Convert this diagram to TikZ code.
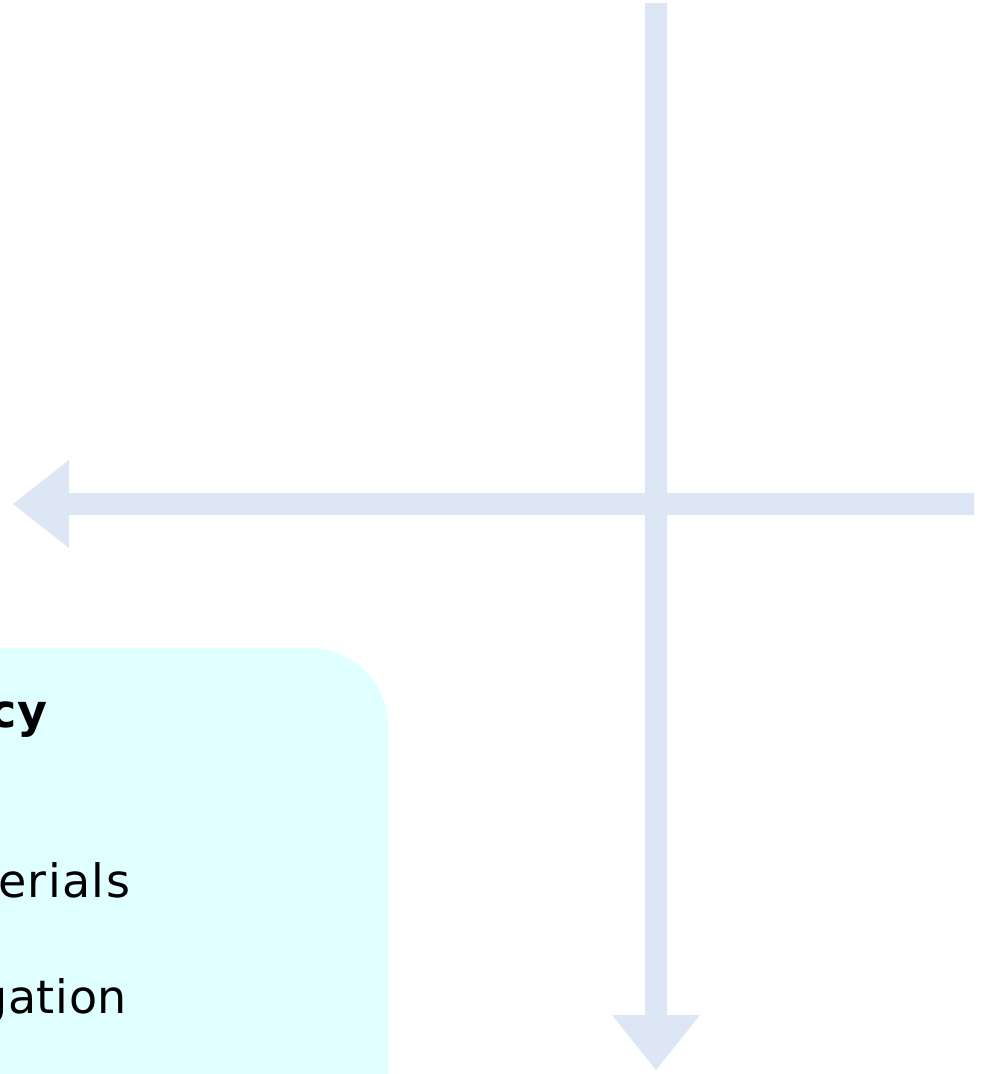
\documentclass[tikz,border=0pt]{standalone}
\usepackage{fontspec}
\setmainfont[LetterSpace=3]{DejaVu Sans}
\definecolor{boxfill}{HTML}{E0FFFF}
\definecolor{arrowfill}{HTML}{DCE6F4}
\tikzset{
  bigarrow/.style={fill=arrowfill, draw=none},
  bodytext/.style={font=\fontsize{46}{55}\selectfont, inner sep=0pt, anchor=base west},
  headtext/.style={font=\fontsize{46}{55}\selectfont\bfseries, inner sep=0pt, anchor=base west}
}
\begin{document}
\begin{tikzpicture}[x=1pt,y=-1pt]
\useasboundingbox (0,0) rectangle (990,1074);
\clip (0,0) rectangle (990,1074);
% horizontal arrow (pointing left)
\fill[bigarrow] (974,493) -- (69,493) -- (69,460) -- (13,504) -- (69,548) -- (69,515) -- (974,515) -- cycle;
% vertical arrow (pointing down)
\fill[bigarrow] (645,3) -- (667,3) -- (667,1015) -- (700,1015) -- (656,1070) -- (612,1015) -- (645,1015) -- cycle;
% text box
\fill[boxfill] (-60,1130) -- (-60,648) -- (310,648) arc[start angle=-90, end angle=0, radius=78] -- (388,1130) -- cycle;
\node[headtext] (h) at (-11,727) {cy};
\node[bodytext] (t1) at (-2,897) {erials};
\node[bodytext] (t2) at (-22,1013) {\addfontfeatures{LetterSpace=1.5}gation};
\end{tikzpicture}
\end{document}
